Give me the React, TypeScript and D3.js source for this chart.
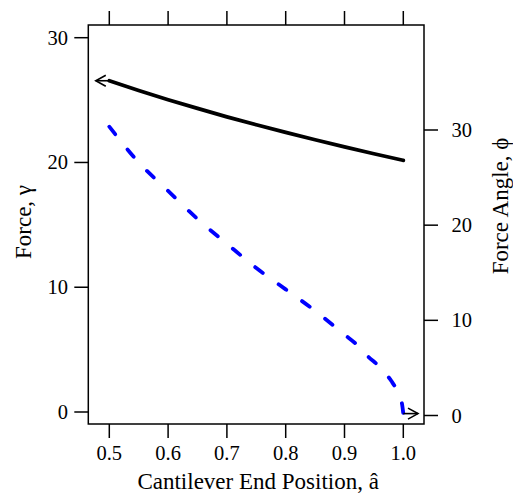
import React from "react";
import * as d3 from "d3";

// Data
const positions = [0.5, 0.55, 0.6, 0.65, 0.7, 0.75, 0.8, 0.85, 0.9, 0.95, 1.0];
const forceValues = [26.55, 25.77, 25.03, 24.33, 23.66, 23.02, 22.41, 21.82, 21.25, 20.7, 20.17];

const anglePositions = [0.5, 0.55, 0.6, 0.65, 0.7, 0.75, 0.8, 0.85, 0.9, 0.92, 0.94, 0.96, 0.97, 0.98, 0.99, 0.995, 0.998, 1.0];
const angleValues = [30.35, 26.6, 23.6, 20.65, 18.05, 15.5, 13.25, 11.0, 8.5, 7.5, 6.2, 5.1, 4.4, 3.6, 2.55, 1.8, 1.15, 0.2];

const xTicks = [0.5, 0.6, 0.7, 0.8, 0.9, 1.0];
const xTickLabels = ["0.5", "0.6", "0.7", "0.8", "0.9", "1.0"];
const leftTicks = [0, 10, 20, 30];
const rightTicks = [0, 10, 20, 30];

// arrow tips (data units)
const forceArrowTipX = 0.477;
const angleArrowTipX = 1.025;

const W = 513;
const H = 495;
const box = { left: 88.3, right: 424, top: 25, bottom: 424 };

export default function App() {
  const x = d3.scaleLinear().domain([0.5, 1.0]).range([109.3, 403.3]);
  const yL = d3.scaleLinear().domain([0, 30]).range([412, 37.7]);
  const yR = d3.scaleLinear().domain([0, 30]).range([415.5, 130]);

  const forceLine = d3
    .line<number>()
    .x((_, i) => x(positions[i]))
    .y((d) => yL(d))
    .curve(d3.curveMonotoneX);
  const angleLine = d3
    .line<number>()
    .x((_, i) => x(anglePositions[i]))
    .y((d) => yR(d))
    .curve(d3.curveMonotoneX);

  const fontTick = 20.5;
  const fontTitle = 23;
  const ff = "'Liberation Serif', 'Times New Roman', serif";
  const tickLen = 14;

  const fy = yL(forceValues[0]);
  const fx0 = x(positions[0]);
  const fx1 = x(forceArrowTipX);
  const ay = yR(angleValues[angleValues.length - 1]);
  const ax0 = x(anglePositions[anglePositions.length - 1]);
  const ax1 = x(angleArrowTipX);
  const headL = 10;
  const headW = 5.5;

  return (
    <svg width={W} height={H} style={{ position: "absolute", left: 0, top: 0 }} fontFamily={ff}>
      <rect x={0} y={0} width={W} height={H} fill="white" />
      {/* box */}
      <rect
        x={box.left}
        y={box.top}
        width={box.right - box.left}
        height={box.bottom - box.top}
        fill="none"
        stroke="black"
        strokeWidth={1.5}
      />
      {/* bottom axis */}
      {xTicks.map((t, i) => (
        <g key={"bx" + i}>
          <line x1={x(t)} x2={x(t)} y1={box.bottom} y2={box.bottom + tickLen} stroke="black" strokeWidth={1.5} />
          <text x={x(t)} y={460} fontSize={fontTick} textAnchor="middle">
            {xTickLabels[i]}
          </text>
          <line x1={x(t)} x2={x(t)} y1={box.top} y2={box.top - tickLen} stroke="black" strokeWidth={1.5} />
        </g>
      ))}
      {/* left axis */}
      {leftTicks.map((t, i) => (
        <g key={"ly" + i}>
          <line x1={box.left} x2={box.left - tickLen} y1={yL(t)} y2={yL(t)} stroke="black" strokeWidth={1.5} />
          <text x={68} y={yL(t)} fontSize={fontTick} textAnchor="end" dominantBaseline="central">
            {String(t)}
          </text>
        </g>
      ))}
      {/* right axis */}
      {rightTicks.map((t, i) => (
        <g key={"ry" + i}>
          <line x1={box.right} x2={box.right + tickLen} y1={yR(t)} y2={yR(t)} stroke="black" strokeWidth={1.5} />
          <text x={451.5} y={yR(t)} fontSize={fontTick} textAnchor="start" dominantBaseline="central">
            {String(t)}
          </text>
        </g>
      ))}
      {/* titles */}
      <text x={(box.left + box.right) / 2 + 2} y={489} fontSize={fontTitle} textAnchor="middle">
        Cantilever End Position, â
      </text>
      <text transform={`translate(31, 222) rotate(-90)`} fontSize={fontTitle} textAnchor="middle">
        Force, γ
      </text>
      <text transform={`translate(508, 206) rotate(-90)`} fontSize={fontTitle} textAnchor="middle">
        Force Angle, ϕ
      </text>
      {/* curves */}
      <path d={forceLine(forceValues) || ""} fill="none" stroke="black" strokeWidth={3.8} strokeLinecap="round" />
      <path
        d={angleLine(angleValues) || ""}
        fill="none"
        stroke="#0000ff"
        strokeWidth={3.8}
        strokeLinecap="round"
        strokeDasharray="9.5 19.5"
      />
      {/* arrows */}
      <g stroke="black" strokeWidth={1.6} fill="none">
        <line x1={fx0} x2={fx1} y1={fy} y2={fy} />
        <polyline points={`${fx1 + headL},${fy - headW} ${fx1},${fy} ${fx1 + headL},${fy + headW}`} />
        <line x1={ax0} x2={ax1} y1={ay} y2={ay} />
        <polyline points={`${ax1 - headL},${ay - headW} ${ax1},${ay} ${ax1 - headL},${ay + headW}`} />
      </g>
    </svg>
  );
}
